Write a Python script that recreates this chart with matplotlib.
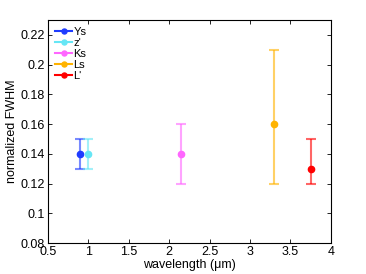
import matplotlib
matplotlib.use("Agg")
import matplotlib.pyplot as plt
import numpy as np

plt.rcParams['font.family'] = ['Liberation Sans', 'DejaVu Sans']

# band data
bands = ["Ys", "z'", "Ks", "Ls", "L'"]
wavelength = [0.9, 0.99, 2.15, 3.3, 3.76]
fwhm = [0.14, 0.14, 0.14, 0.16, 0.13]
err_low = [0.01, 0.01, 0.02, 0.04, 0.01]
err_high = [0.01, 0.01, 0.02, 0.05, 0.02]
colors = ['#1f3cff', '#66e6f5', '#ff66ff', '#ffb300', '#ff0000']

fig = plt.figure(figsize=(3.66, 2.74), dpi=100)
ax = fig.add_axes([0.131, 0.113, 0.773, 0.814])

for i in range(len(bands)):
    ax.errorbar(wavelength[i], fwhm[i], yerr=[[err_low[i]], [err_high[i]]],
                fmt='none', ecolor=colors[i], alpha=0.6, elinewidth=1.5,
                capsize=3.5, capthick=1.5)
    ax.plot(wavelength[i], fwhm[i], 'o', color=colors[i], markersize=4.5,
            linestyle='-', label=bands[i])

ax.set_xlim(0.5, 4)
ax.set_ylim(0.08, 0.23)
ax.set_xticks(np.arange(0.5, 4.01, 0.5))
ax.set_xticklabels(['0.5', '1', '1.5', '2', '2.5', '3', '3.5', '4'])
ax.set_yticks(np.arange(0.08, 0.221, 0.02))
ax.set_yticklabels(['0.08', '0.1', '0.12', '0.14', '0.16', '0.18', '0.2', '0.22'])
ax.tick_params(direction='in', top=True, right=True, labelsize=9, length=3,
               width=0.6, pad=2)
for s in ax.spines.values():
    s.set_linewidth(0.8)

ax.set_xlabel('wavelength (μm)', fontsize=9, labelpad=1)
ax.set_ylabel('normalized FWHM', fontsize=9, labelpad=2)

leg = ax.legend(loc='upper left', frameon=False, fontsize=8, handlelength=1.6,
                handletextpad=0.1, labelspacing=0.1, borderaxespad=0.5,
                borderpad=0.1, markerscale=0.8)

fig.savefig('out.png', dpi=100)
